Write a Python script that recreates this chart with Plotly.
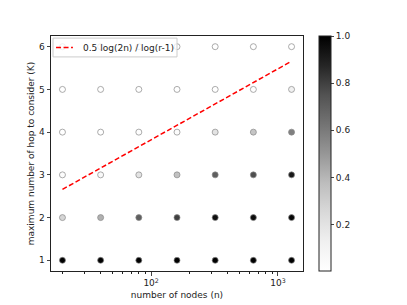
import plotly.graph_objects as go

nodes = [20, 40, 80, 160, 320, 640, 1280]
hops = [1, 2, 3, 4, 5, 6]
# fraction values per hop row (rows: K=1..6, columns: nodes)
values = [
    [1.0, 1.0, 1.0, 1.0, 1.0, 1.0, 1.0],
    [0.27, 0.42, 0.70, 0.80, 0.95, 0.96, 0.98],
    [0.02, 0.05, 0.20, 0.36, 0.70, 0.76, 0.92],
    [0.0, 0.0, 0.01, 0.03, 0.20, 0.34, 0.58],
    [0.0, 0.0, 0.0, 0.0, 0.0, 0.0, 0.12],
    [0.0, 0.0, 0.0, 0.0, 0.0, 0.0, 0.0],
]
bound_vals = [2.66, 3.16, 3.66, 4.16, 4.66, 5.16, 5.66]
bound_label = "0.5 log(2n) / log(r-1)"

greys = [[0.0, "#ffffff"], [0.125, "#f0f0f0"], [0.25, "#d9d9d9"], [0.375, "#bdbdbd"],
         [0.5, "#969696"], [0.625, "#737373"], [0.75, "#525252"], [0.875, "#252525"],
         [1.0, "#000000"]]

xs, ys, cs = [], [], []
for k, row in zip(hops, values):
    for n, v in zip(nodes, row):
        xs.append(n); ys.append(k); cs.append(v)

font = dict(family="DejaVu Sans", size=9, color="#222")

fig = go.Figure()
fig.add_trace(go.Scatter(
    x=xs, y=ys, mode="markers", showlegend=False,
    marker=dict(size=6, color=cs, colorscale=greys, cmin=0.003, cmax=1.0,
                line=dict(color="#888", width=0.7),
                colorbar=dict(x=1.063, xanchor="left", y=0, yanchor="bottom", yref="paper",
                              len=1, lenmode="fraction", thickness=12, xpad=0, ypad=0,
                              outlinewidth=1, outlinecolor="#222",
                              tickvals=[0.2, 0.4, 0.6, 0.8, 1.0],
                              ticktext=["0.2", "0.4", "0.6", "0.8", "1.0"],
                              ticks="outside", ticklen=3, tickfont=font)),
))
fig.add_trace(go.Scatter(
    x=nodes, y=bound_vals, mode="lines", name=bound_label, showlegend=False,
    line=dict(color="red", width=1.5, dash="5px,2.5px"),
))

# manual legend (matplotlib style)
fig.add_shape(type="rect", xref="paper", yref="paper", x0=0.008, x1=0.5, y0=0.911, y1=0.991,
              line=dict(color="#cccccc", width=1), fillcolor="rgba(255,255,255,0.8)", layer="above")
fig.add_shape(type="line", xref="paper", yref="paper", x0=0.02, x1=0.087, y0=0.951, y1=0.951,
              line=dict(color="red", width=1.5, dash="5px,2.5px"), layer="above")
fig.add_annotation(text=bound_label, xref="paper", yref="paper", x=0.12, y=0.951,
                   xanchor="left", yanchor="middle", showarrow=False,
                   font=dict(family="DejaVu Sans", size=9, color="#222"))

fig.update_layout(
    width=399, height=297, margin=dict(l=43, r=104, t=28, b=34, pad=0, autoexpand=False),
    plot_bgcolor="white", paper_bgcolor="white", font=font,
    showlegend=False,
)
fig.update_xaxes(
    type="log", range=[1.2107, 3.1975],
    tickvals=[100, 1000], ticktext=["10<sup>2</sup>", "10<sup>3</sup>"],
    ticks="outside", ticklen=3.5, showgrid=False, zeroline=False,
    showline=True, mirror=True, linecolor="#222", linewidth=1,
    minor=dict(ticks="outside", ticklen=2, tickcolor="#222",
               tickvals=[20, 30, 40, 50, 60, 70, 80, 90, 200, 300, 400, 500, 600, 700, 800, 900],
               showgrid=False),
    title=dict(text="number of nodes (n)", font=font, standoff=4),
)
fig.update_yaxes(
    range=[0.75, 6.25], tickvals=hops,
    ticks="outside", ticklen=3.5, showgrid=False, zeroline=False,
    showline=True, mirror=True, linecolor="#222", linewidth=1,
    title=dict(text="maximum number of hop to consider (K)", font=font, standoff=2),
)

fig.write_html("out.html")
